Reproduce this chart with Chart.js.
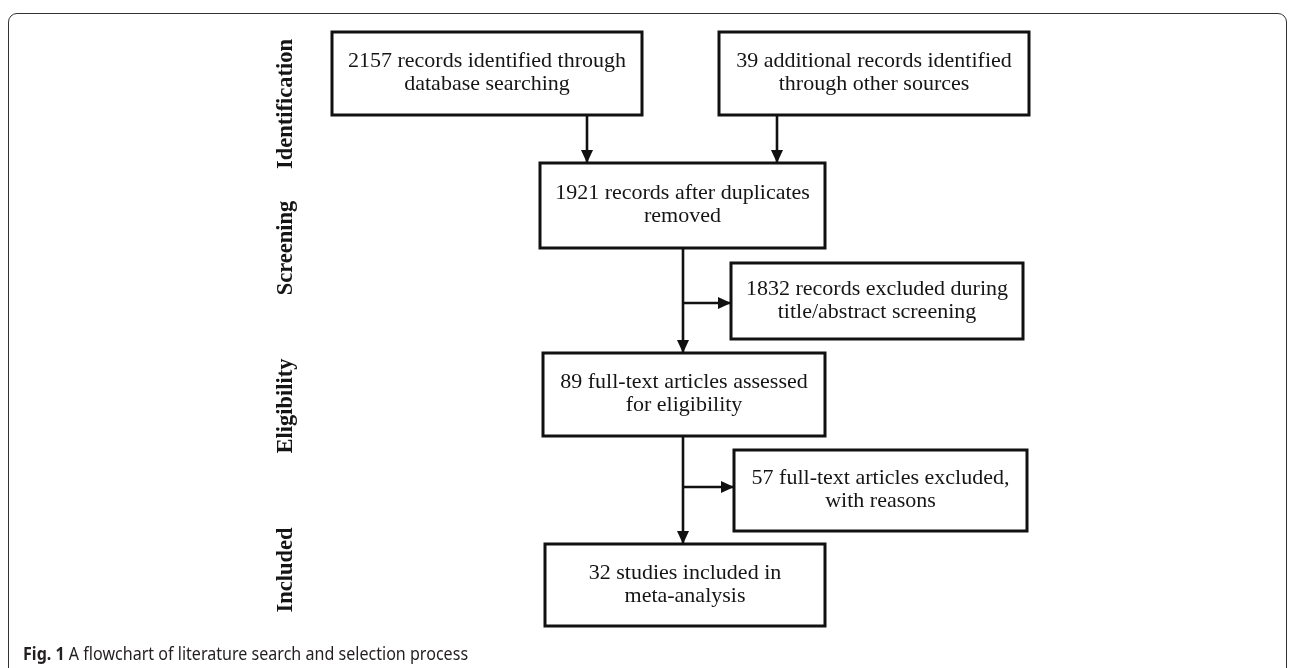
<!DOCTYPE html>
<html>
<head>
<meta charset="utf-8">
<script src="https://cdn.jsdelivr.net/npm/chart.js@4.4.1/dist/chart.umd.min.js"></script>
<style>
  html,body{margin:0;padding:0;background:#fff;overflow:hidden;}
  #wrap{position:relative;width:1290px;height:668px;}
  #frame{position:absolute;left:8px;top:13px;width:1279px;height:720px;border:1.5px solid #333;border-radius:9px;box-sizing:border-box;}
  #cv{position:absolute;left:0;top:0;}
  #caption{position:absolute;left:23px;top:641px;font-family:"Noto Sans",sans-serif;font-size:18px;color:#231f20;white-space:nowrap;transform:scaleX(0.893);transform-origin:left top;}
  #caption b{font-weight:700;}
</style>
</head>
<body>
<div id="wrap">
  <div id="frame"></div>
  <canvas id="cv" width="1290" height="668"></canvas>
  <div id="caption"><b>Fig. 1</b> A flowchart of literature search and selection process</div>
</div>
<script>
// Flow diagram content
const boxText = [
  ['2157 records identified through','database searching'],
  ['39 additional records identified','through other sources'],
  ['1921 records after duplicates','removed'],
  ['1832 records excluded during','title/abstract screening'],
  ['89 full-text articles assessed','for eligibility'],
  ['57 full-text articles excluded,','with reasons'],
  ['32 studies included in','meta-analysis']
];
const stageLabels = ['Identification','Screening','Eligibility','Included'];

// layout in diagram units (same scale as the picture)
const boxLeft   = [332, 719, 540, 731, 543, 734, 545];
const boxTop    = [ 32,  32, 163, 263, 353, 450, 544];
const boxRight  = [642,1029, 825,1023, 825,1027, 825];
const boxBottom = [115, 115, 248, 339, 436, 531, 626];
const stageY    = [104, 248, 406, 570];
const stageX    = 286;
// connectors: [x1,y1,x2,y2], all end in an arrow head
const links = [
  [587,115,587,163],
  [777,115,777,163],
  [683,248,683,353],
  [683,303,731,303],
  [683,436,683,544],
  [683,487,734,487]
];

const datasets = [];
boxText.forEach((t,i)=>{
  const l=boxLeft[i], r=boxRight[i], tp=boxTop[i], b=boxBottom[i];
  datasets.push({
    data:[{x:l,y:tp},{x:r,y:tp},{x:r,y:b},{x:l,y:b},{x:l,y:tp}],
    showLine:true, borderColor:'#111', borderWidth:3, pointRadius:0,
    borderJoinStyle:'miter', borderCapStyle:'square', fill:false
  });
});
links.forEach(k=>{
  datasets.push({
    data:[{x:k[0],y:k[1]},{x:k[2],y:k[3]}],
    showLine:true, borderColor:'#111', borderWidth:2.6, pointRadius:0, fill:false
  });
});

const flowText = {
  id:'flowText',
  afterDatasetsDraw(chart){
    const ctx = chart.ctx, xs = chart.scales.x, ys = chart.scales.y;
    ctx.save();
    // arrow heads
    ctx.fillStyle = '#111';
    links.forEach(k=>{
      const x2=xs.getPixelForValue(k[2]), y2=ys.getPixelForValue(k[3]);
      const x1=xs.getPixelForValue(k[0]), y1=ys.getPixelForValue(k[1]);
      const a=Math.atan2(y2-y1,x2-x1), len=13, half=6;
      ctx.beginPath();
      ctx.moveTo(x2,y2);
      ctx.lineTo(x2-len*Math.cos(a)+half*Math.sin(a), y2-len*Math.sin(a)-half*Math.cos(a));
      ctx.lineTo(x2-len*Math.cos(a)-half*Math.sin(a), y2-len*Math.sin(a)+half*Math.cos(a));
      ctx.closePath();
      ctx.fill();
    });
    // box texts
    ctx.fillStyle = '#151515';
    ctx.font = '22px "Liberation Serif", "Times New Roman", serif';
    ctx.textAlign = 'center';
    ctx.textBaseline = 'middle';
    boxText.forEach((lines,i)=>{
      const cx = xs.getPixelForValue((boxLeft[i]+boxRight[i])/2);
      const cy = ys.getPixelForValue((boxTop[i]+boxBottom[i])/2);
      ctx.fillText(lines[0], cx, cy-12);
      ctx.fillText(lines[1], cx, cy+11);
    });
    // stage labels, rotated
    ctx.font = 'bold 22.5px "Liberation Serif", "Times New Roman", serif';
    stageLabels.forEach((s,i)=>{
      ctx.save();
      ctx.translate(xs.getPixelForValue(stageX), ys.getPixelForValue(stageY[i]));
      ctx.rotate(-Math.PI/2);
      ctx.fillText(s,0,0);
      ctx.restore();
    });
    ctx.restore();
  }
};

new Chart(document.getElementById('cv').getContext('2d'), {
  type:'scatter',
  data:{datasets},
  options:{
    responsive:false, animation:false,
    layout:{padding:0},
    plugins:{legend:{display:false}, tooltip:{enabled:false}},
    scales:{
      x:{type:'linear', min:0, max:1290, display:false},
      y:{type:'linear', min:0, max:668, reverse:true, display:false}
    }
  },
  plugins:[flowText]
});
</script>
</body>
</html>
